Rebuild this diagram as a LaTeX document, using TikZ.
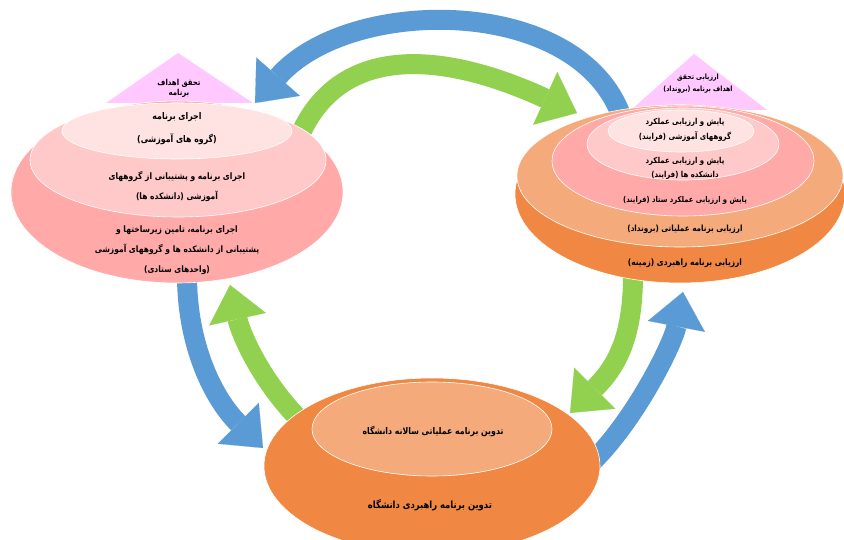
\documentclass[tikz,border=0pt]{standalone}
\usepackage{fontspec}
\usetikzlibrary{shapes.geometric, arrows.meta}
\newfontfamily\fafont[Script=Arabic, FakeStretch=0.85]{DejaVu Sans}
\TeXXeTstate=1
\newcommand{\rl}[1]{\beginR #1\endR}
\definecolor{arrblue}{HTML}{5B9BD5}
\definecolor{arrgreen}{HTML}{92D050}
\definecolor{orangedark}{HTML}{F08844}
\definecolor{orangelight}{HTML}{F4AA7A}
\definecolor{pinkdeep}{HTML}{FFA9A9}
\definecolor{pinkmid}{HTML}{FFC9C9}
\definecolor{pinkpale}{HTML}{FFE2E2}
\definecolor{violetpale}{HTML}{FFC9FF}

\begin{document}
\begin{tikzpicture}[x=1pt, y=-1pt,
    ring/.style={ellipse, draw=white, line width=0.6pt, inner sep=0pt},
    lbl/.style 2 args={font=\fafont\bfseries\fontsize{#1}{#2}\selectfont, align=center, inner sep=0pt},
    band/.style={line width=20pt, -{Triangle[length=35pt, width=58pt, line width=0.1pt]}}]
			\useasboundingbox (0,0) rectangle (844,540);

			% goal triangles
			\fill[violetpale] (106,103) -- (178,53) -- (253,103) -- cycle;
			\fill[violetpale] (631,110) -- (694,54) -- (767,110) -- cycle;

			% connectors, behind the groups
			\coordinate (blueTopS) at (622,118);
			\coordinate (blueTopT) at (255,103);
			\coordinate (greenTopS) at (300,135);
			\coordinate (greenTopT) at (577,113);
			\coordinate (blueLeftS) at (187,275);
			\coordinate (blueLeftT) at (263,448);
			\coordinate (greenLeftS) at (300,420);
			\coordinate (greenLeftT) at (230,285);
			\coordinate (greenRightS) at (633,275);
			\coordinate (greenRightT) at (570,413);
			\coordinate (blueRightS) at (592,462);
			\coordinate (blueRightT) at (683,292);

			\draw[band, arrblue] (blueTopS) .. controls (580,-5) and (350,-5) .. (blueTopT);
			\draw[band, arrgreen] (greenTopS) .. controls (340,45) and (440,50) .. (greenTopT);
			\draw[band, arrblue] (blueLeftS) .. controls (187,345) and (213,398) .. (blueLeftT);
			\draw[band, arrgreen] (greenLeftS) .. controls (262,382) and (241,335) .. (greenLeftT);
			\draw[band, arrgreen] (greenRightS) .. controls (633,340) and (615,368) .. (greenRightT);
			\draw[band, arrblue] (blueRightS) .. controls (635,420) and (673,344) .. (blueRightT);

			% left group
			\node[ring, fill=pinkdeep, minimum width=332pt, minimum height=182pt] (lOuter) at (177,192) {};
			\node[ring, fill=pinkmid, minimum width=296pt, minimum height=114pt] (lMid) at (178,160) {};
			\node[ring, fill=pinkpale, minimum width=230pt, minimum height=56pt] (lInner) at (177,131) {};

			% right group
			\node[ring, fill=orangedark, minimum width=330pt, minimum height=178pt] (rBase) at (680,194) {};
			\node[ring, fill=orangelight, minimum width=326pt, minimum height=142pt] (rOp) at (680,176) {};
			\node[ring, fill=pinkdeep, minimum width=262pt, minimum height=110pt] (rStaff) at (683,161) {};
			\node[ring, fill=pinkmid, minimum width=192pt, minimum height=72pt] (rFac) at (683,144) {};
			\node[ring, fill=pinkpale, minimum width=146pt, minimum height=42pt] (rGrp) at (681,131) {};

			% bottom group
			\node[ring, fill=orangedark, minimum width=336pt, minimum height=176pt] (bOuter) at (432,466) {};
			\node[ring, fill=orangelight, minimum width=240pt, minimum height=94pt] (bInner) at (432,429) {};

			% texts
			\node[lbl={8.2}{10}] (lGoal) at (179,88) {\rl{تحقق اهداف}\\\rl{برنامه}};
			\node[lbl={7.3}{12}] (rGoal) at (698,84) {\rl{ارزیابی تحقق}\\\rl{اهداف برنامه (برونداد)}};

			\node[lbl={9.2}{23}] (lInnerTxt) at (177,128.5) {\rl{اجرای برنامه}\\\rl{(گروه های آموزشی)}};
			\node[lbl={8.9}{20}] (lMidTxt) at (177,187) {\rl{اجرای برنامه و پشتیبانی از گروههای}\\\rl{آموزشی (دانشکده ها)}};
			\node[lbl={8.9}{20}] (lOuterTxt) at (177,250) {\rl{اجرای برنامه، تامین زیرساختها  و}\\\rl{پشتیبانی از دانشکده ها و گروههای آموزشی}\\\rl{(واحدهای ستادی)}};

			\node[lbl={8.2}{15}] (rGrpTxt) at (685,129.5) {\rl{پایش و ارزیابی عملکرد}\\\rl{گروههای آموزشی (فرایند)}};
			\node[lbl={8.2}{14}] (rFacTxt) at (685,168) {\rl{پایش و ارزیابی عملکرد}\\\rl{دانشکده ها (فرایند)}};
			\node[lbl={8}{14}] (rStaffTxt) at (685,200) {\rl{پایش و ارزیابی عملکرد ستاد (فرایند)}};
			\node[lbl={8.5}{14}] (rOpTxt) at (685,229) {\rl{ارزیابی برنامه عملیاتی (برونداد)}};
			\node[lbl={8.8}{14}] (rBaseTxt) at (685,263) {\rl{ارزیابی برنامه راهبردی (زمینه)}};

			\node[lbl={9.2}{14}] (bInnerTxt) at (433,431) {\rl{تدوین برنامه عملیاتی سالانه دانشگاه}};
			\node[lbl={9.9}{14}] (bOuterTxt) at (430,505) {\rl{تدوین برنامه راهبردی دانشگاه}};
		\end{tikzpicture}
\end{document}
